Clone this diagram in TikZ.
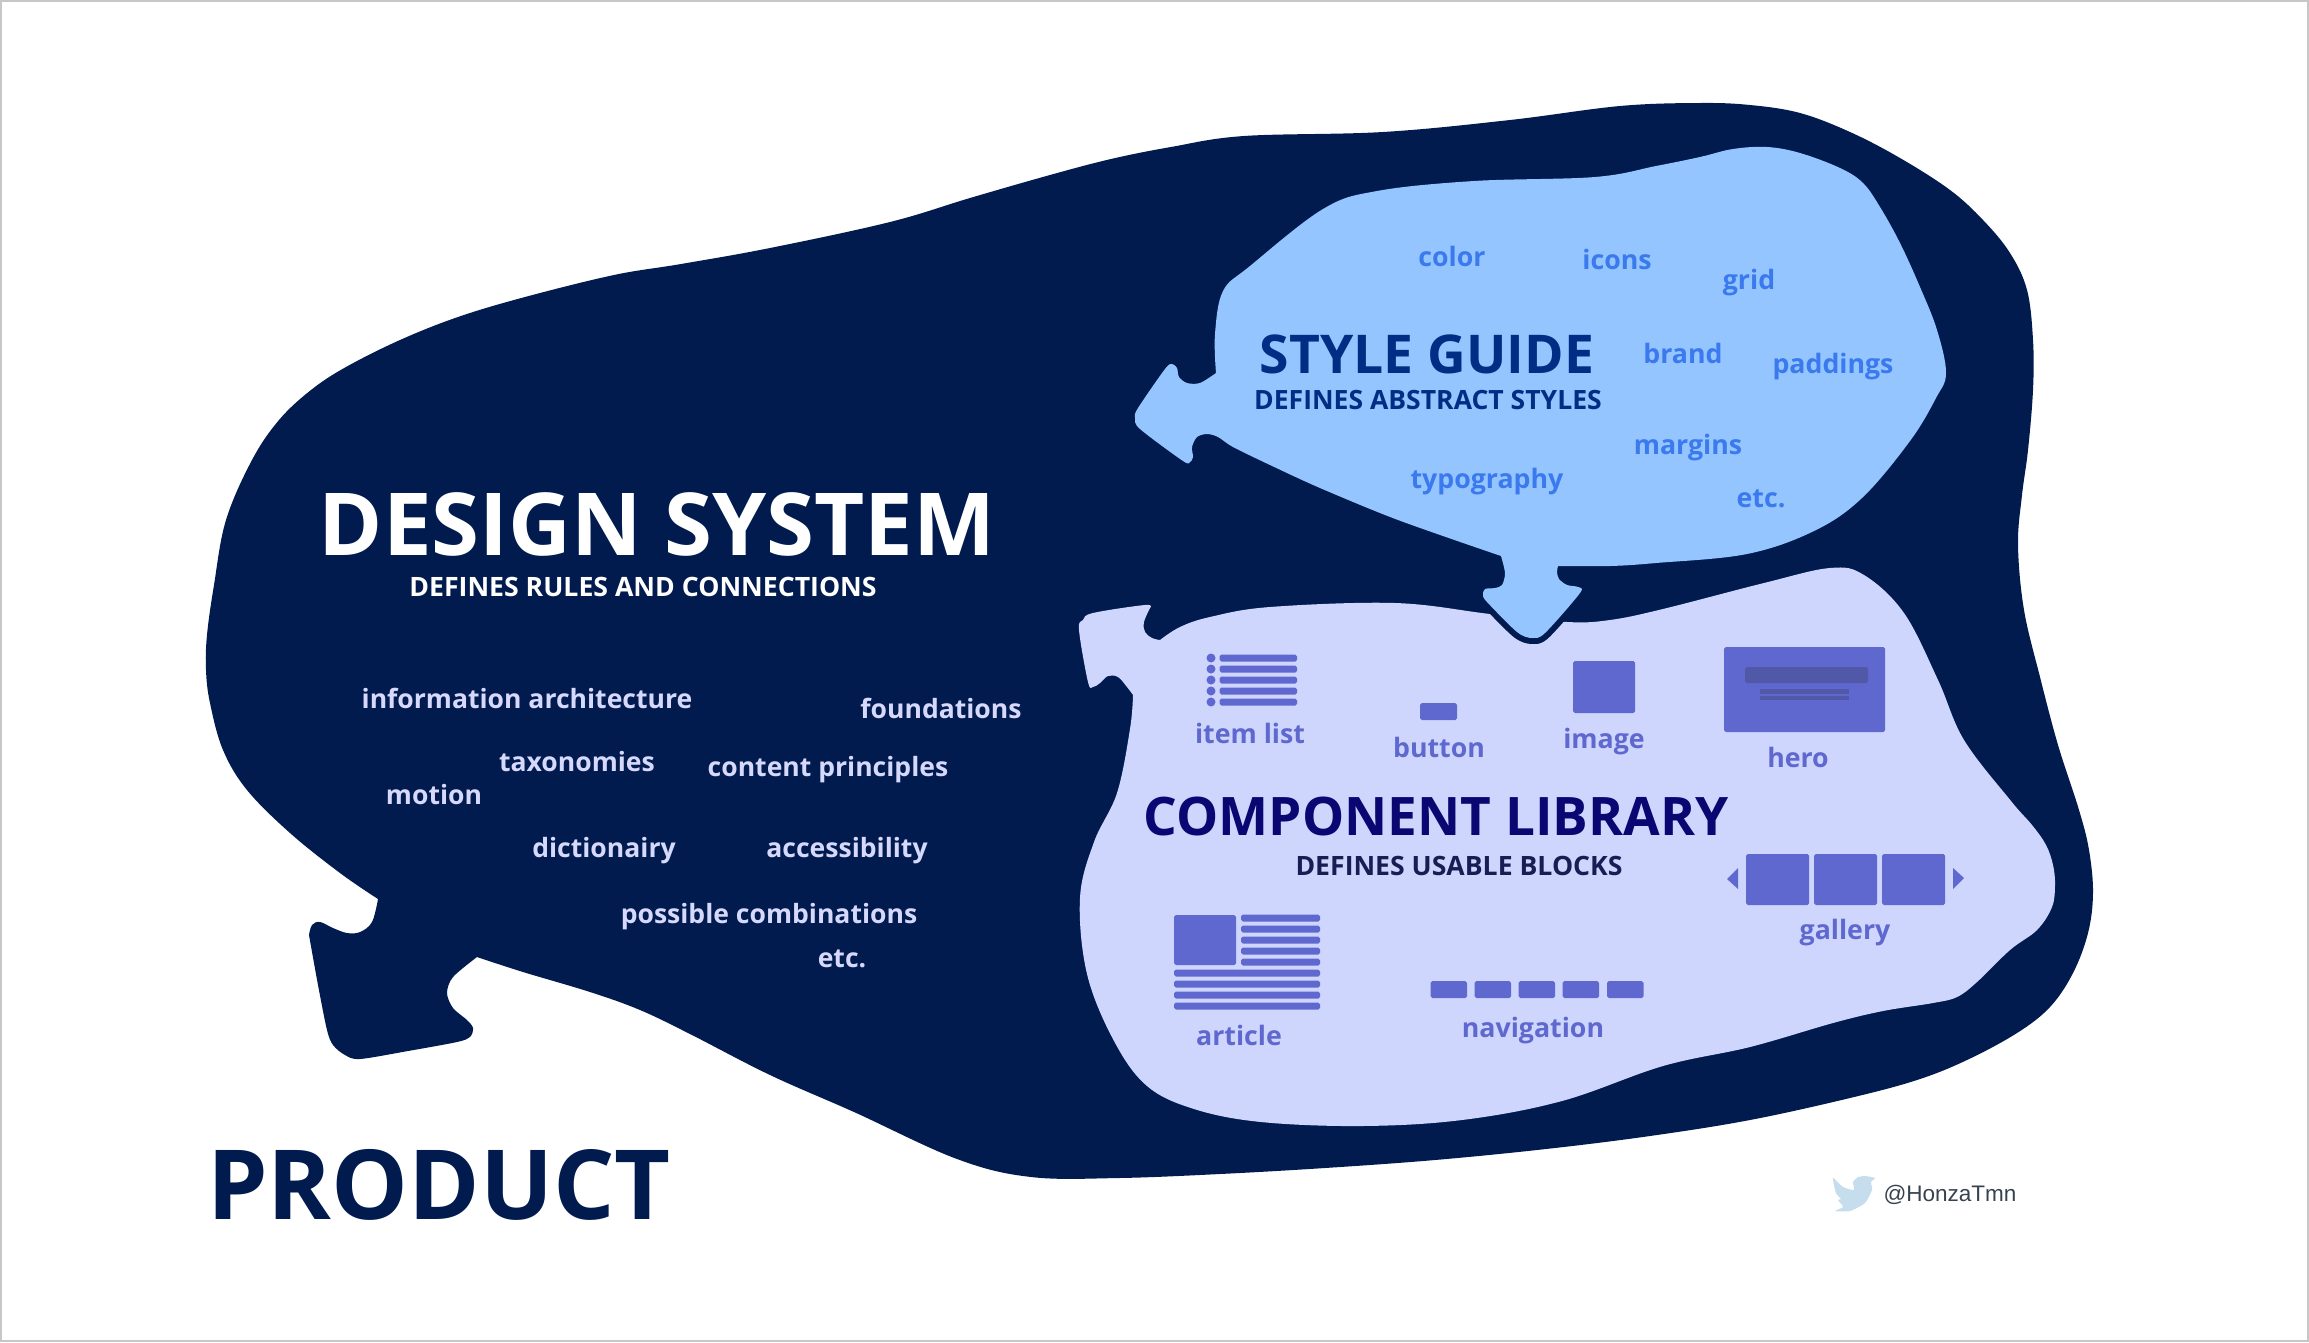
\documentclass[tikz,border=0pt]{standalone}
\usepackage{fontspec}
\setmainfont{Open Sans}
\newfontfamily\handlefont{Liberation Sans}
\definecolor{navyblob}{HTML}{011B4F}
\definecolor{skyblob}{HTML}{94C5FF}
\definecolor{lavblob}{HTML}{CFD6FE}
\definecolor{stylelabel}{HTML}{3B79EE}
\definecolor{styletitle}{HTML}{012D84}
\definecolor{comptitle}{HTML}{0A0672}
\definecolor{compsub}{HTML}{1A1C54}
\definecolor{iconblue}{HTML}{5F68CE}
\definecolor{herobar}{HTML}{5158A8}
\definecolor{dslabel}{HTML}{D6D9FB}
\definecolor{birdblue}{HTML}{C5DDEC}
\definecolor{handlegrey}{HTML}{36424F}
\tikzset{
  dslab/.style={text=dslabel, font=\fontsize{7.55}{9}\selectfont\bfseries, inner sep=0pt},
  sglab/.style={text=stylelabel, font=\fontsize{7.6}{9}\selectfont\bfseries, inner sep=0pt},
  cllab/.style={text=iconblue, font=\fontsize{7.6}{9}\selectfont\bfseries, inner sep=0pt},
  icon/.style={fill=iconblue, rounded corners=0.5pt},
}
\begin{document}
\begin{tikzpicture}[x=0.01cm, y=-0.01cm]
  \useasboundingbox (0,0) rectangle (2309,1342);
  \draw[black!22, line width=0.6pt] (1,1) rectangle (2308,1341);

  % outer blob with its tail
  \fill[navyblob] plot[smooth, tension=0.6] coordinates {(477,957) (523,972) (590,992) (640,1010) (690,1034) (770,1075) (854,1112) (957,1159) (1031,1177) (1119,1178) (1220,1174) (1325,1168) (1435,1160) (1546,1149) (1650,1136) (1750,1120) (1850,1098) (1917,1080) (1967,1060) (2017,1033) (2050,1007) (2073,973) (2088,933) (2093,893) (2089,850) (2079,810) (2058,745) (2040,677) (2024,610) (2018,545) (2022,495) (2028,450) (2033,390) (2033,340) (2027,290) (2010,253) (1983,220) (1950,190) (1900,158) (1850,132) (1800,113) (1750,105) (1700,103) (1620,106) (1510,120) (1383,132) (1244,136) (1171,147) (1111,159) (1050,175) (970,198) (890,222) (770,248) (681,264) (614,275) (525,297) (458,317) (400,340) (346,367) (311,390) (279,420) (252,460) (226,520) (214,585) (207,635) (206,670) (210,703) (223,750) (247,790) (290,833) (340,873) (378,899)}
    -- plot[smooth, tension=0.6] coordinates {(378,899) (372,922) (360,932) (347,933) (333,928) (320,922) (312,925) (309,935)}
    -- plot[smooth, tension=0.5] coordinates {(309,935) (318,985) (327,1030) (333,1045) (345,1055) (360,1059) (408,1051) (457,1042) (470,1037) (473,1028) (467,1020) (453,1008) (447,993) (453,977) (477,957)} -- cycle;

  % component library blob
  \fill[lavblob] plot[smooth, tension=0.6] coordinates {(1150,608) (1145,605) (1093,613) (1083,620) (1079,630) (1088,682) (1093,687) (1100,683) (1108,676) (1118,677) (1127,687) (1133,695)}
    -- plot[smooth, tension=0.6] coordinates {(1133,695) (1130,729) (1117,793) (1094,842) (1080,898) (1087,974) (1114,1041) (1147,1086) (1194,1109) (1261,1122) (1362,1126) (1462,1120) (1562,1101) (1663,1066) (1750,1047) (1833,1023) (1883,1011) (1933,1003) (1957,997) (1977,982) (2010,950) (2037,930) (2052,907) (2055,885) (2053,865) (2046,845) (2032,825) (2011,801) (1964,740) (1938,680) (1904,613) (1864,575) (1830,568) (1764,583) (1663,609) (1610,620) (1567,622) (1490,614) (1395,603) (1270,607) (1210,617) (1180,627) (1160,640)}
    -- plot[smooth, tension=0.6] coordinates {(1160,640) (1152,638) (1145,632) (1144,622) (1150,608)} -- cycle;

  % style guide blob, its rim shows only over the lavender
  \fill[skyblob, preaction={draw=navyblob, line width=3.4pt, line join=round}] plot[smooth, tension=0.6] coordinates {(1216,373) (1215,334) (1223,291) (1250,266) (1323,209) (1377,191) (1474,181) (1595,177) (1656,166) (1700,157) (1733,149) (1767,147) (1800,153) (1840,168) (1863,183) (1880,207) (1900,243) (1920,287) (1937,330) (1946,373) (1936,398) (1910,441) (1862,498) (1814,531) (1747,554) (1656,563) (1610,566) (1558,566)}
    -- plot[smooth, tension=0.5] coordinates {(1558,566) (1557,572) (1559,579) (1567,585) (1578,587) (1580,593) (1545,633) (1532,638) (1517,632) (1487,602) (1483,595) (1485,589) (1495,588) (1502,585) (1505,573) (1501,556)}
    -- plot[smooth, tension=0.5] coordinates {(1501,556) (1398,520) (1320,488) (1270,465) (1233,447) (1218,437) (1207,434) (1197,437) (1192,447) (1193,457) (1190,462) (1183,461) (1140,429) (1135,418) (1138,408) (1165,369) (1172,364) (1177,368) (1179,377) (1187,383) (1200,383) (1216,373)} -- cycle;

  % headings
  \node[text=white, font=\fontsize{24.7}{26}\selectfont\bfseries, inner sep=0pt] (dstitle) at (657,524) {DESIGN SYSTEM};
  \node[text=white, font=\fontsize{7.58}{9}\selectfont\bfseries, inner sep=0pt] (dssub) at (643,587) {DEFINES RULES AND CONNECTIONS};
  \node[text=styletitle, font=\fontsize{15.2}{17}\selectfont\bfseries, inner sep=0pt] (sgtitle) at (1427,354) {STYLE GUIDE};
  \node[text=styletitle, font=\fontsize{7.55}{9}\selectfont\bfseries, inner sep=0pt] (sgsub) at (1428,400) {DEFINES ABSTRACT STYLES};
  \node[text=comptitle, font=\fontsize{15.1}{17}\selectfont\bfseries, inner sep=0pt] (cltitle) at (1436,816) {COMPONENT LIBRARY};
  \node[text=compsub, font=\fontsize{7.57}{9}\selectfont\bfseries, inner sep=0pt] (clsub) at (1459,866) {DEFINES USABLE BLOCKS};
  \node[text=navyblob, font=\fontsize{27.5}{30}\selectfont\bfseries, inner sep=0pt] (product) at (439,1185) {PRODUCT};

  % design system labels
  \node[dslab] (lbinfo) at (527,698) {information architecture};
  \node[dslab] (lbfound) at (941,708) {foundations};
  \node[dslab] (lbtax) at (577,762) {taxonomies};
  \node[dslab] (lbcont) at (828,770) {content principles};
  \node[dslab] (lbmotion) at (434,795) {motion};
  \node[dslab] (lbdict) at (604,851) {dictionairy};
  \node[dslab] (lbaccess) at (847,851) {accessibility};
  \node[dslab] (lbposs) at (769,917) {possible combinations};
  \node[dslab] (lbetc) at (842,959) {etc.};

  % style guide labels
  \node[sglab] (sgcolor) at (1452,256) {color};
  \node[sglab] (sgicons) at (1617,259) {icons};
  \node[sglab] (sggrid) at (1749,283) {grid};
  \node[sglab] (sgbrand) at (1683,353) {brand};
  \node[sglab] (sgpad) at (1833,367) {paddings};
  \node[sglab] (sgmarg) at (1688,448) {margins};
  \node[sglab] (sgtypo) at (1487,482) {typography};
  \node[sglab] (sgetc) at (1761,499) {etc.};

  % component labels
  \node[cllab] (clitem) at (1250,733) {item list};
  \node[cllab] (clbutton) at (1439,747) {button};
  \node[cllab] (climage) at (1604,742) {image};
  \node[cllab] (clhero) at (1798,757) {hero};
  \node[cllab] (clgallery) at (1845,933) {gallery};
  \node[cllab] (clarticle) at (1239,1035) {article};
  \node[cllab] (clnav) at (1533,1031) {navigation};

  % item list
  \foreach \y in {658,669,680,691,702} {
    \fill[iconblue] (1211,\y) circle (4.5);
    \fill[icon] (1219.5,\y-3.5) rectangle (1297,\y+3.5);
  }
  % button and image
  \fill[icon] (1420,703) rectangle (1457,720);
  \fill[icon] (1573,661) rectangle (1635,713);
  % hero
  \fill[icon] (1724,647) rectangle (1885,732);
  \fill[herobar, rounded corners=0.5pt] (1745,667) rectangle (1868,683);
  \fill[herobar] (1760,689) rectangle (1849,693.5);
  \fill[herobar] (1760,695.5) rectangle (1849,700);
  % gallery
  \foreach \x in {1746,1814,1882} {
    \fill[icon] (\x,854) rectangle (\x+63,905);
  }
  \fill[iconblue] (1738,868) -- (1727,879) -- (1738,889) -- cycle;
  \fill[iconblue] (1953,868) -- (1964,878) -- (1953,889) -- cycle;
  % article
  \fill[icon] (1174,915) rectangle (1236,965);
  \foreach \y in {918,929,940,951,962} {
    \fill[icon] (1241,\y-3.5) rectangle (1320,\y+3.5);
  }
  \foreach \y in {973,984,995,1006} {
    \fill[icon] (1174,\y-3.5) rectangle (1320,\y+3.5);
  }
  % navigation
  \foreach \x in {1430.5,1474.5,1518.5,1562.5,1607} {
    \fill[icon] (\x,981) rectangle (\x+36.5,998);
  }

  % handle with bird
  \fill[birdblue] plot[smooth, tension=0.35] coordinates {(1858,1177) (1865,1176) (1875,1178) (1871,1182) (1872,1190) (1865,1203) (1850,1211) (1835,1211) (1843,1207) (1838,1200) (1841,1199) (1836,1193) (1833,1178) (1843,1187) (1854,1190) (1853,1182) (1858,1177)} -- cycle;
  \node[text=handlegrey, font=\handlefont\fontsize{6.4}{8}\selectfont, inner sep=0pt] (handle) at (1950,1195) {@HonzaTmn};
\end{tikzpicture}
\end{document}
